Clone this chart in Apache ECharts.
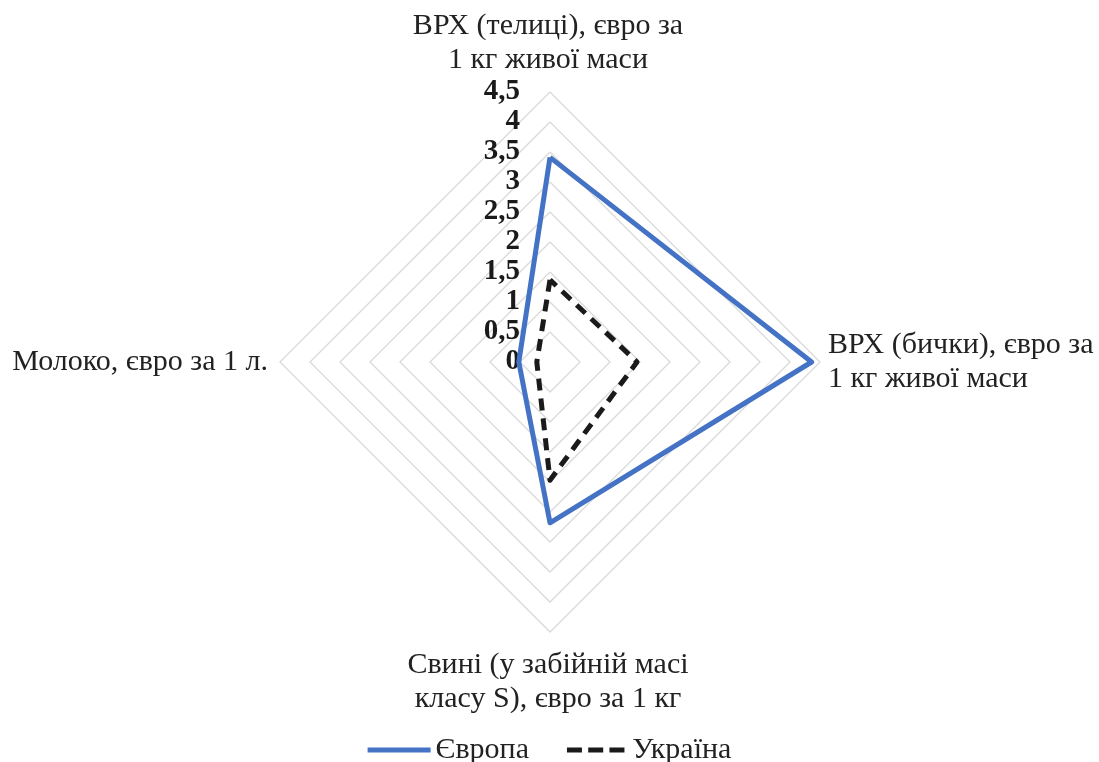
<!DOCTYPE html>
<html>
<head>
<meta charset="utf-8">
<script src="https://cdn.jsdelivr.net/npm/echarts@6/dist/echarts.min.js"></script>
<style>
html,body{margin:0;padding:0;background:#fff;}
#chart{width:1099px;height:762px;}
</style>
</head>
<body>
<div id="chart"></div>
<script>
// Indicators listed counter-clockwise from the top (ECharts radar order)
const indicators = [
  'ВРХ (телиці), євро за\n1 кг живої маси',
  'Молоко, євро за 1 л.',
  'Свині (у забійній масі\nкласу S), євро за 1 кг',
  'ВРХ (бички), євро за\n1 кг живої маси'
];
const seriesNames = ['Європа', 'Україна'];
const europe = [3.41, 0.52, 2.68, 4.36];
const ukraine = [1.37, 0.22, 1.97, 1.45];
const axisMax = 4.5;
const splitCount = 9;

const FONT = '"Liberation Serif", "Times New Roman", serif';
const chart = echarts.init(document.getElementById('chart'));
chart.setOption({
  backgroundColor: '#fff',
  animation: false,
  textStyle: { fontFamily: FONT },
  legend: {
    bottom: -8,
    left: 'center',
    itemGap: 38,
    itemWidth: 63,
    itemHeight: 5,
    textStyle: { fontFamily: FONT, fontSize: 30, color: '#222' },
    data: [
      { name: seriesNames[0], icon: 'rect' },
      { name: seriesNames[1], icon: 'path://M0,0h12v4h-12z M17,0h12v4h-12z M34,0h12v4h-12z' }
    ]
  },
  radar: {
    center: [550, 362],
    radius: 270,
    shape: 'polygon',
    splitNumber: splitCount,
    startAngle: 90,
    nameGap: 8,
    axisName: { color: '#222', fontFamily: FONT, fontSize: 30, lineHeight: 34, padding: [8, 4, 0, 0] },
    axisLine: { show: false },
    axisTick: { show: false },
    axisLabel: { show: false },
    splitLine: { lineStyle: { color: '#d9d9d9', width: 1.3 } },
    splitArea: { show: false },
    indicator: indicators.map((n, i) => {
      const o = { name: n, min: 0, max: axisMax };
      if (i === 0) {
        o.axisLabel = {
          show: true,
          margin: 30,
          fontFamily: FONT,
          fontSize: 29,
          fontWeight: 'bold',
          color: '#1a1a1a',
          formatter: v => String(v).replace('.', ',')
        };
      }
      return o;
    })
  },
  series: [{
    type: 'radar',
    symbol: 'none',
    data: [
      { name: seriesNames[0], value: europe,
        lineStyle: { color: '#4472C4', width: 5 }, itemStyle: { color: '#4472C4' } },
      { name: seriesNames[1], value: ukraine,
        lineStyle: { color: '#1a1a1a', width: 5, type: [12, 8] }, itemStyle: { color: '#1a1a1a' } }
    ]
  }]
});
</script>
</body>
</html>
